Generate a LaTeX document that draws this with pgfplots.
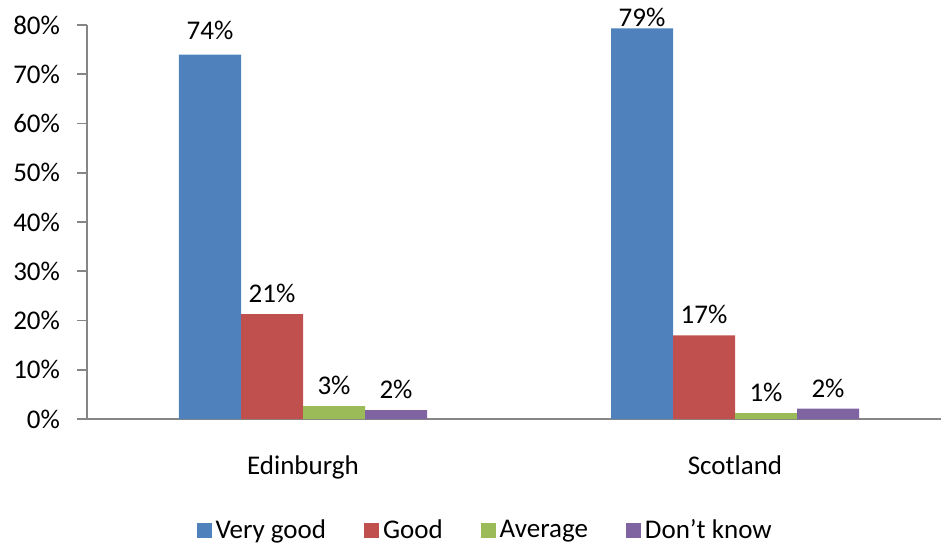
\documentclass[border=0pt]{standalone}
\usepackage{pgfplots}
\pgfplotsset{compat=1.18}
\usepackage{fontspec}
\setmainfont{Carlito}
\definecolor{cBlue}{HTML}{4F81BD}
\definecolor{cRed}{HTML}{C0504D}
\definecolor{cGreen}{HTML}{9BBB59}
\definecolor{cPurple}{HTML}{8064A2}
\definecolor{axgray}{HTML}{868686}
\begin{document}
\begin{tikzpicture}
\begin{axis}[
  scale only axis,
  width=432pt, height=197pt,
  xmin=0.5, xmax=2.5,
  ymin=0, ymax=80,
  ybar=0pt, bar width=31pt,
  axis x line=bottom, axis y line=left,
  axis line style={-, axgray, line width=0.8pt},
  xtick={1,2}, xticklabels={Edinburgh,Scotland},
  xtick style={draw=none},
  ytick={0,10,...,80},
  yticklabel={\pgfmathprintnumber{\tick}\%},
  /pgf/number format/assume math mode=true,
  ytick style={axgray, line width=0.8pt},
  tick align=outside,
  major tick length=5pt,
  yticklabel style={xshift=-5pt, font=\fontsize{13.5}{16}\selectfont},
  xticklabel style={yshift=-10pt, font=\fontsize{13.5}{16}\selectfont},
  tick label style={text=black},
  visualization depends on={rawx \as \rawx},
  nodes near coords={\pgfmathprintnumber[fixed,precision=0]{\pgfplotspointmeta}\%},
  nodes near coords style={font=\fontsize{13.5}{16}\selectfont, text=black, yshift=2pt},
  legend columns=4,
  legend style={draw=none, fill=none, at={(axis description cs:0.462,-0.283)}, anchor=center,
    font=\fontsize{13.5}{16}\selectfont, /tikz/every even column/.append style={column sep=17pt}},
  legend image code/.code={\fill[#1] (0pt,-3.75pt) rectangle (7.5pt,3.75pt);},
  clip=false,
]
\addplot[fill=cBlue, draw=none, nodes near coords style={yshift={ifthenelse(\rawx==2,-4.5,2)}}] coordinates {(1,74.0) (2,79.3)};
\addplot[fill=cRed, draw=none] coordinates {(1,21.3) (2,17.0)};
\addplot[fill=cGreen, draw=none] coordinates {(1,2.6) (2,1.2)};
\addplot[fill=cPurple, draw=none] coordinates {(1,1.8) (2,2.1)};
\legend{Very good, Good, Average, Don't know}
\coordinate (BL) at (rel axis cs:0,0);
\coordinate (TL) at (rel axis cs:0,1);
\end{axis}
\pgfresetboundingbox
\path[use as bounding box] ([xshift=-43.5pt,yshift=-63.5pt]BL) rectangle ([xshift=427pt,yshift=12.5pt]TL);
\end{tikzpicture}
\end{document}
